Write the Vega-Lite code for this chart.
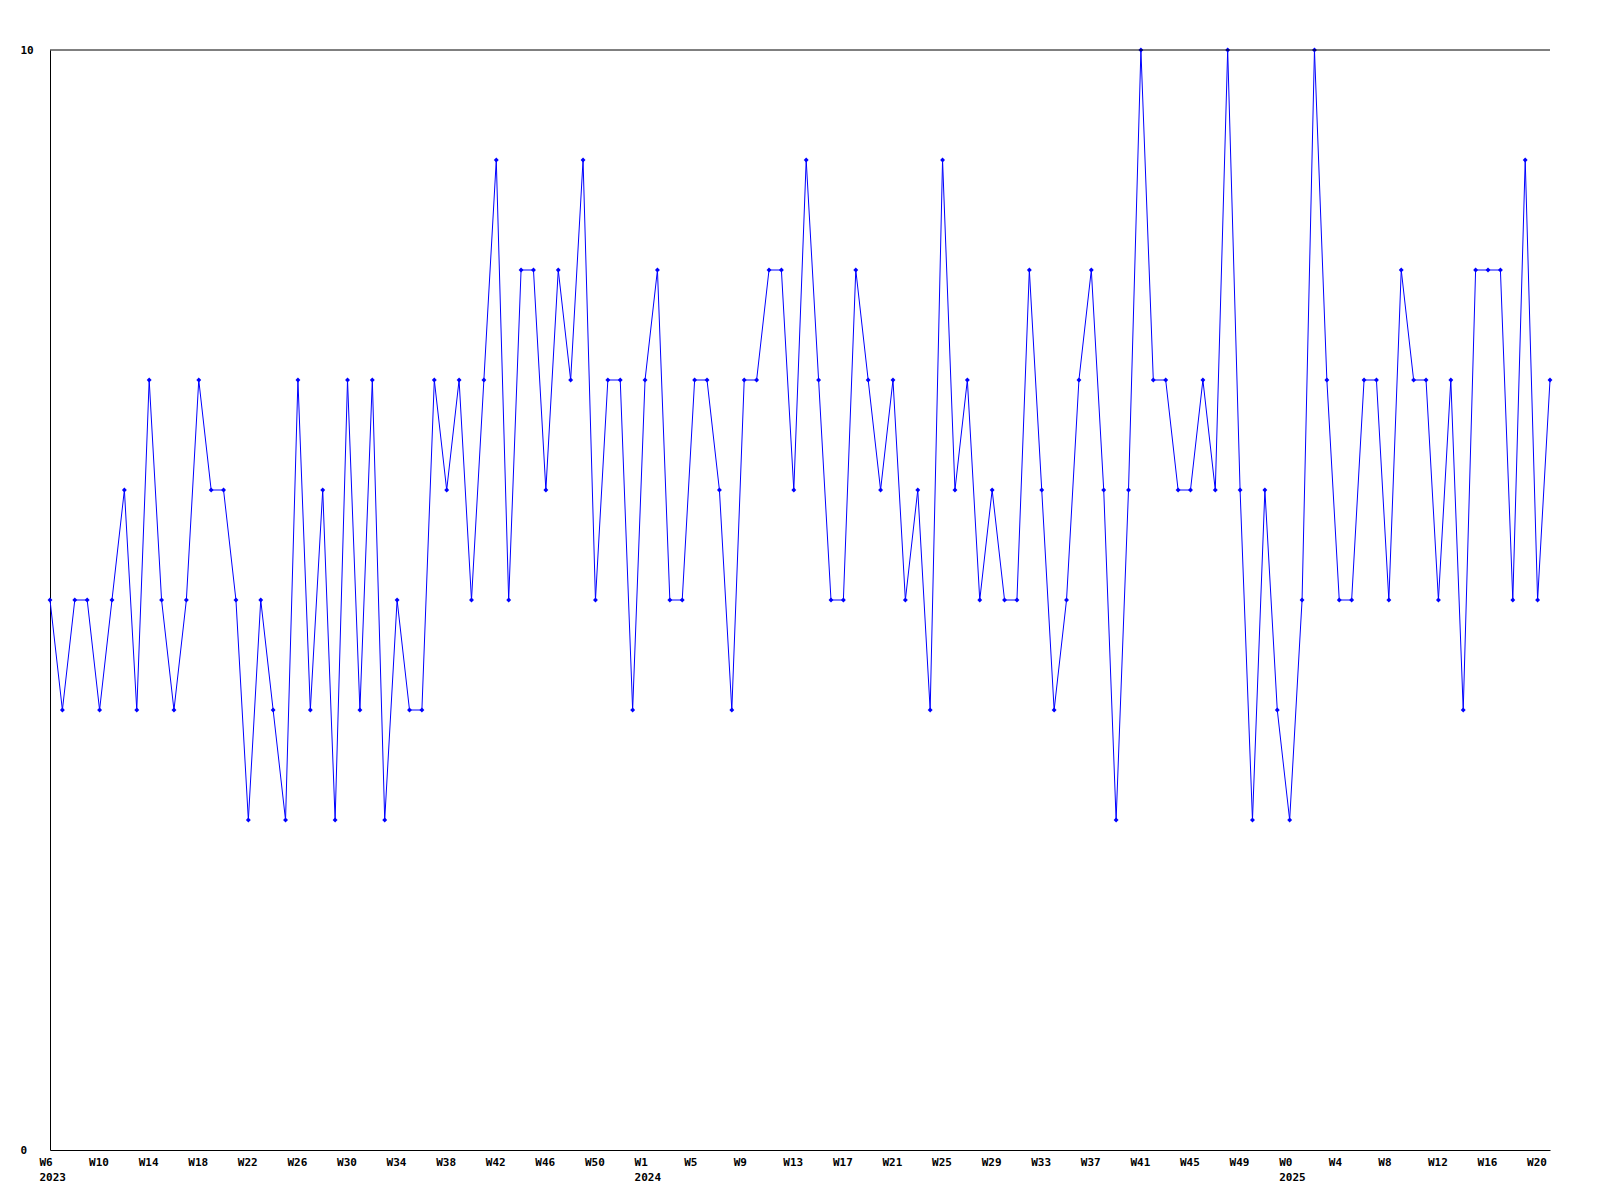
{
  "$schema": "https://vega.github.io/schema/vega-lite/v6.json",
  "width": 1500,
  "height": 1100,
  "autosize": {"type": "none"},
  "padding": {"left": 50, "top": 50, "right": 50, "bottom": 50},
  "background": "white",
  "config": {"view": {"stroke": null}, "font": "DejaVu Sans Mono"},
  "data": {"values": [
    {"week": "2023-02-05", "value": 5}, {"week": "2023-02-12", "value": 4}, {"week": "2023-02-19", "value": 5}, {"week": "2023-02-26", "value": 5},
    {"week": "2023-03-05", "value": 4}, {"week": "2023-03-12", "value": 5}, {"week": "2023-03-19", "value": 6}, {"week": "2023-03-26", "value": 4},
    {"week": "2023-04-02", "value": 7}, {"week": "2023-04-09", "value": 5}, {"week": "2023-04-16", "value": 4}, {"week": "2023-04-23", "value": 5},
    {"week": "2023-04-30", "value": 7}, {"week": "2023-05-07", "value": 6}, {"week": "2023-05-14", "value": 6}, {"week": "2023-05-21", "value": 5},
    {"week": "2023-05-28", "value": 3}, {"week": "2023-06-04", "value": 5}, {"week": "2023-06-11", "value": 4}, {"week": "2023-06-18", "value": 3},
    {"week": "2023-06-25", "value": 7}, {"week": "2023-07-02", "value": 4}, {"week": "2023-07-09", "value": 6}, {"week": "2023-07-16", "value": 3},
    {"week": "2023-07-23", "value": 7}, {"week": "2023-07-30", "value": 4}, {"week": "2023-08-06", "value": 7}, {"week": "2023-08-13", "value": 3},
    {"week": "2023-08-20", "value": 5}, {"week": "2023-08-27", "value": 4}, {"week": "2023-09-03", "value": 4}, {"week": "2023-09-10", "value": 7},
    {"week": "2023-09-17", "value": 6}, {"week": "2023-09-24", "value": 7}, {"week": "2023-10-01", "value": 5}, {"week": "2023-10-08", "value": 7},
    {"week": "2023-10-15", "value": 9}, {"week": "2023-10-22", "value": 5}, {"week": "2023-10-29", "value": 8}, {"week": "2023-11-05", "value": 8},
    {"week": "2023-11-12", "value": 6}, {"week": "2023-11-19", "value": 8}, {"week": "2023-11-26", "value": 7}, {"week": "2023-12-03", "value": 9},
    {"week": "2023-12-10", "value": 5}, {"week": "2023-12-17", "value": 7}, {"week": "2023-12-24", "value": 7}, {"week": "2023-12-31", "value": 4},
    {"week": "2024-01-07", "value": 7}, {"week": "2024-01-14", "value": 8}, {"week": "2024-01-21", "value": 5}, {"week": "2024-01-28", "value": 5},
    {"week": "2024-02-04", "value": 7}, {"week": "2024-02-11", "value": 7}, {"week": "2024-02-18", "value": 6}, {"week": "2024-02-25", "value": 4},
    {"week": "2024-03-03", "value": 7}, {"week": "2024-03-10", "value": 7}, {"week": "2024-03-17", "value": 8}, {"week": "2024-03-24", "value": 8},
    {"week": "2024-03-31", "value": 6}, {"week": "2024-04-07", "value": 9}, {"week": "2024-04-14", "value": 7}, {"week": "2024-04-21", "value": 5},
    {"week": "2024-04-28", "value": 5}, {"week": "2024-05-05", "value": 8}, {"week": "2024-05-12", "value": 7}, {"week": "2024-05-19", "value": 6},
    {"week": "2024-05-26", "value": 7}, {"week": "2024-06-02", "value": 5}, {"week": "2024-06-09", "value": 6}, {"week": "2024-06-16", "value": 4},
    {"week": "2024-06-23", "value": 9}, {"week": "2024-06-30", "value": 6}, {"week": "2024-07-07", "value": 7}, {"week": "2024-07-14", "value": 5},
    {"week": "2024-07-21", "value": 6}, {"week": "2024-07-28", "value": 5}, {"week": "2024-08-04", "value": 5}, {"week": "2024-08-11", "value": 8},
    {"week": "2024-08-18", "value": 6}, {"week": "2024-08-25", "value": 4}, {"week": "2024-09-01", "value": 5}, {"week": "2024-09-08", "value": 7},
    {"week": "2024-09-15", "value": 8}, {"week": "2024-09-22", "value": 6}, {"week": "2024-09-29", "value": 3}, {"week": "2024-10-06", "value": 6},
    {"week": "2024-10-13", "value": 10}, {"week": "2024-10-20", "value": 7}, {"week": "2024-10-27", "value": 7}, {"week": "2024-11-03", "value": 6},
    {"week": "2024-11-10", "value": 6}, {"week": "2024-11-17", "value": 7}, {"week": "2024-11-24", "value": 6}, {"week": "2024-12-01", "value": 10},
    {"week": "2024-12-08", "value": 6}, {"week": "2024-12-15", "value": 3}, {"week": "2024-12-22", "value": 6}, {"week": "2024-12-29", "value": 4},
    {"week": "2025-01-05", "value": 3}, {"week": "2025-01-12", "value": 5}, {"week": "2025-01-19", "value": 10}, {"week": "2025-01-26", "value": 7},
    {"week": "2025-02-02", "value": 5}, {"week": "2025-02-09", "value": 5}, {"week": "2025-02-16", "value": 7}, {"week": "2025-02-23", "value": 7},
    {"week": "2025-03-02", "value": 5}, {"week": "2025-03-09", "value": 8}, {"week": "2025-03-16", "value": 7}, {"week": "2025-03-23", "value": 7},
    {"week": "2025-03-30", "value": 5}, {"week": "2025-04-06", "value": 7}, {"week": "2025-04-13", "value": 4}, {"week": "2025-04-20", "value": 8},
    {"week": "2025-04-27", "value": 8}, {"week": "2025-05-04", "value": 8}, {"week": "2025-05-11", "value": 5}, {"week": "2025-05-18", "value": 9},
    {"week": "2025-05-25", "value": 5}, {"week": "2025-06-01", "value": 7}
  ]},
  "layer": [
    {
      "mark": {"type": "line", "color": "#0000ff", "strokeWidth": 1, "point": {"shape": "diamond", "size": 24, "filled": true, "color": "#0000ff"}},
      "encoding": {
        "x": {
          "field": "week",
          "type": "temporal",
          "scale": {"domain": [{"year": 2023, "month": 2, "date": 5, "utc": true}, {"year": 2025, "month": 6, "date": 1, "utc": true}], "nice": false},
          "axis": {
            "title": null,
            "grid": false,
            "ticks": false,
            "tickSize": 0,
            "domainColor": "black",
            "domainWidth": 1,
            "labelAlign": "left",
            "labelBaseline": "top",
            "labelOffset": -11,
            "labelPadding": 6,
            "labelFont": "DejaVu Sans Mono",
            "labelFontSize": 11,
            "labelFontWeight": "bold",
            "labelColor": "black",
            "labelLineHeight": 15,
            "labelOverlap": false,
            "labelFlush": false,
            "labelBound": false,
            "values": [
              {"year": 2023, "month": 2, "date": 5, "utc": true}, {"year": 2023, "month": 3, "date": 5, "utc": true}, {"year": 2023, "month": 4, "date": 2, "utc": true},
              {"year": 2023, "month": 4, "date": 30, "utc": true}, {"year": 2023, "month": 5, "date": 28, "utc": true}, {"year": 2023, "month": 6, "date": 25, "utc": true},
              {"year": 2023, "month": 7, "date": 23, "utc": true}, {"year": 2023, "month": 8, "date": 20, "utc": true}, {"year": 2023, "month": 9, "date": 17, "utc": true},
              {"year": 2023, "month": 10, "date": 15, "utc": true}, {"year": 2023, "month": 11, "date": 12, "utc": true}, {"year": 2023, "month": 12, "date": 10, "utc": true},
              {"year": 2024, "month": 1, "date": 7, "utc": true}, {"year": 2024, "month": 2, "date": 4, "utc": true}, {"year": 2024, "month": 3, "date": 3, "utc": true},
              {"year": 2024, "month": 3, "date": 31, "utc": true}, {"year": 2024, "month": 4, "date": 28, "utc": true}, {"year": 2024, "month": 5, "date": 26, "utc": true},
              {"year": 2024, "month": 6, "date": 23, "utc": true}, {"year": 2024, "month": 7, "date": 21, "utc": true}, {"year": 2024, "month": 8, "date": 18, "utc": true},
              {"year": 2024, "month": 9, "date": 15, "utc": true}, {"year": 2024, "month": 10, "date": 13, "utc": true}, {"year": 2024, "month": 11, "date": 10, "utc": true},
              {"year": 2024, "month": 12, "date": 8, "utc": true}, {"year": 2025, "month": 1, "date": 5, "utc": true}, {"year": 2025, "month": 2, "date": 2, "utc": true},
              {"year": 2025, "month": 3, "date": 2, "utc": true}, {"year": 2025, "month": 3, "date": 30, "utc": true}, {"year": 2025, "month": 4, "date": 27, "utc": true},
              {"year": 2025, "month": 5, "date": 25, "utc": true}
            ],
            "labelExpr": "[['W6','W10','W14','W18','W22','W26','W30','W34','W38','W42','W46','W50','W1','W5','W9','W13','W17','W21','W25','W29','W33','W37','W41','W45','W49','W0','W4','W8','W12','W16','W20'][round((time(datum.value)-utc(2023,1,5))/2419200000)], (round((time(datum.value)-utc(2023,1,5))/2419200000)==0 || round((time(datum.value)-utc(2023,1,5))/2419200000)==12 || round((time(datum.value)-utc(2023,1,5))/2419200000)==25) ? utcFormat(datum.value,'%Y') : '']"
          }
        },
        "y": {
          "field": "value",
          "type": "quantitative",
          "scale": {"domain": [0, 10], "nice": false},
          "axis": {
            "title": null,
            "grid": false,
            "ticks": false,
            "tickSize": 0,
            "values": [0, 10],
            "format": "d",
            "domainColor": "black",
            "domainWidth": 1,
            "labelAlign": "left",
            "labelPadding": 30,
            "labelFont": "DejaVu Sans Mono",
            "labelFontSize": 11,
            "labelFontWeight": "bold",
            "labelColor": "black"
          }
        }
      }
    },
    {
      "data": {"values": [{}]},
      "mark": {"type": "rule", "color": "black", "strokeWidth": 1},
      "encoding": {"y": {"datum": 10, "type": "quantitative"}}
    }
  ]
}
